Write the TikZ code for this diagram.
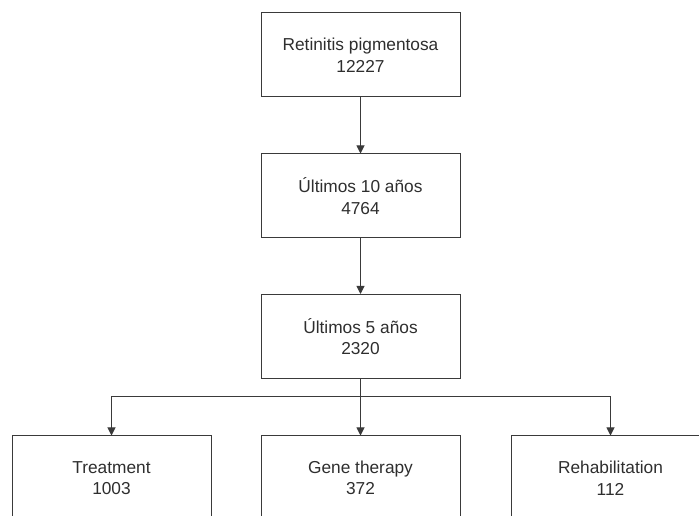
\documentclass[tikz,border=0pt]{standalone}
\usepackage{fontspec}
\setmainfont{Liberation Sans}
\usetikzlibrary{arrows.meta}
\definecolor{linec}{HTML}{3A3A3A}
\definecolor{textc}{HTML}{2E2E2E}
\begin{document}
\begin{tikzpicture}[x=1pt,y=1pt,
  box/.style={draw=linec, line width=1pt, minimum width=199pt, minimum height=84pt, inner sep=0pt,
    align=center, text=textc, font=\fontsize{17.3}{21.5}\selectfont},
  conn/.style={draw=linec, line width=1pt, -{Triangle[length=8pt,width=8pt]}}]
\useasboundingbox (0,0) rectangle (699,516);
\clip (0,0) rectangle (699,516);
% y_tikz = 516 - y_px
\node[box] (rp) at (360.5,461) {Retinitis pigmentosa\\12227};
\node[box] (u10) at (360.5,320) {Últimos 10 años\\4764};
\node[box] (u5) at (360.5,179.5) {Últimos 5 años\\2320};
\node[box] (tr) at (111.5,38) {Treatment\\1003};
\node[box] (gt) at (360.5,38) {Gene therapy\\372};
\node[box] (rh) at (610.5,38) {Rehabilitation\\112};
\coordinate (br) at (360.5,119);
\draw[conn] (rp) -- (u10);
\draw[conn] (u10) -- (u5);
\draw[draw=linec, line width=1pt] (u5.south) -- (br);
\draw[conn] (br) -| (tr.north);
\draw[conn] (br) -- (gt.north);
\draw[conn] (br) -| (rh.north);
\end{tikzpicture}
\end{document}
